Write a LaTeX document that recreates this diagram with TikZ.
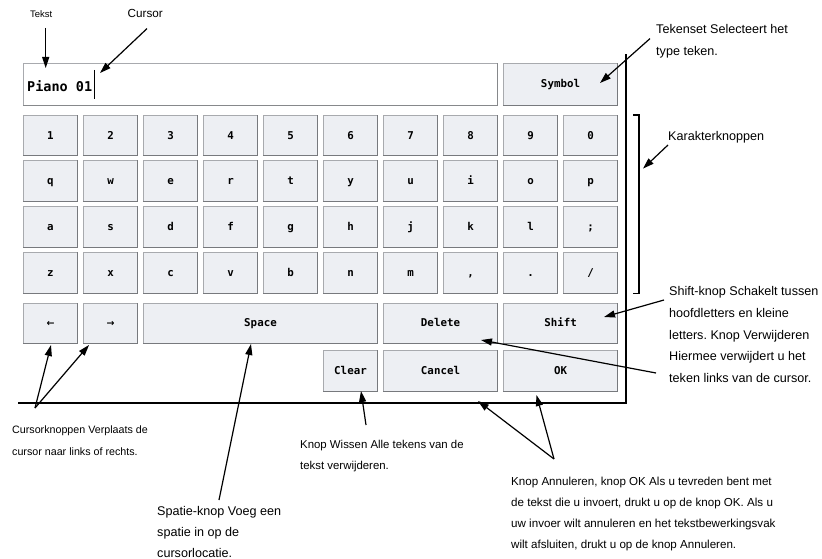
\documentclass[tikz,border=0pt]{standalone}
\usepackage{fontspec}
\setmainfont{Liberation Sans}
\newfontfamily\keyfam{DejaVu Sans Mono}
\newfontfamily\arrowfam{DejaVu Sans}
\usetikzlibrary{arrows.meta}
\frenchspacing
\definecolor{keyfill}{HTML}{EDEFF3}
\definecolor{keyedge}{HTML}{A8AAAE}
\definecolor{keydark}{HTML}{77797D}
\tikzset{
  keybox/.style={draw=keyedge, fill=keyfill, line width=0.8pt, inner sep=0pt,
    text height=7.6pt, text depth=0pt,
    font=\keyfam\bfseries\fontsize{10.8}{12}\selectfont},
  keyshade/.style={draw=keydark, line width=1.1pt},
  callout/.style={line width=1.2pt, -{Triangle[length=11pt,width=7pt]}},
  frameline/.style={line width=1.4pt},
  note/.style={inner sep=0pt, anchor=north west, align=left},
  bignote/.style={note, font=\fontsize{12.6}{21.7}\selectfont},
}
% wide key: name, x1, y1, x2, y2, label
\newcommand\kbwide[6]{%
  \node[keybox, minimum width={(#4-#2)*1pt}, minimum height={(#5-#3)*1pt}]
    (#1) at ({(#2+#4)/2},{(#3+#5)/2}) {#6};
  \draw[keyshade] (#1.south west) -- (#1.south east) -- (#1.north east);
}
% key in a column: name, column, y1, y2, label
\newcommand\kbcol[5]{%
  \pgfmathsetmacro\kxa{23.5+60*#2}%
  \pgfmathsetmacro\kxb{\kxa+54}%
  \kbwide{#1}{\kxa}{#3}{\kxb}{#4}{#5}%
}
\begin{document}
\begin{tikzpicture}[x=1pt,y=-1pt]
\useasboundingbox (0,0) rectangle (822,559);

% frame
\coordinate (fa) at (18,403);
\coordinate (fb) at (626,403);
\coordinate (fc) at (626,54);
\draw[frameline] (fa) -- (fb) -- (fc);

% text box
\node[draw=keyedge, fill=white, line width=0.8pt, inner sep=0pt,
  minimum width=474pt, minimum height=42pt] (tbox) at (260.5,84) {};
\draw[keyshade, draw=keyedge!80!black] (tbox.south west) -- (tbox.south east) -- (tbox.north east);
\node[inner sep=0pt, anchor=west, font=\keyfam\bfseries\fontsize{13.5}{15}\selectfont]
  (ptext) at (27,86) {Piano 01};
\draw[line width=0.9pt] (94,70) -- (94,99);

\kbwide{symbol}{503.5}{63}{617.5}{105}{Symbol}

% character keys
\foreach \c/\t in {0/1,1/2,2/3,3/4,4/5,5/6,6/7,7/8,8/9,9/0}
  {\kbcol{ra\c}{\c}{115}{155.5}{\t}}
\foreach \c/\t in {0/q,1/w,2/e,3/r,4/t,5/y,6/u,7/i,8/o,9/p}
  {\kbcol{rb\c}{\c}{160.5}{201.5}{\t}}
\foreach \c/\t in {0/a,1/s,2/d,3/f,4/g,5/h,6/j,7/k,8/l,9/;}
  {\kbcol{rc\c}{\c}{206}{247}{\t}}
\foreach \c/\t in {0/z,1/x,2/c,3/v,4/b,5/n,6/m,7/{,},8/.}
  {\kbcol{rd\c}{\c}{252}{293.5}{\t}}
\kbcol{rd9}{9}{252}{293.5}{/}

% function keys
\kbcol{kleft}{0}{303}{343}{\arrowfam\fontsize{9.5}{10}\selectfont ←}
\kbcol{kright}{1}{303}{343}{\arrowfam\fontsize{9.5}{10}\selectfont →}
\kbwide{kspace}{143.5}{303}{377.5}{343}{Space}
\kbwide{kdelete}{383.5}{303}{497.5}{343}{Delete}
\kbwide{kshift}{503.5}{303}{617.5}{343}{Shift}
\kbcol{kclear}{5}{350}{391}{Clear}
\kbwide{kcancel}{383.5}{350}{497.5}{391}{Cancel}
\kbwide{kok}{503.5}{350}{617.5}{391}{OK}

% bracket
\coordinate (ba) at (633,115);
\coordinate (bb) at (639,115);
\coordinate (bc) at (639,293.5);
\coordinate (bd) at (633,293.5);
\draw[line width=1.2pt] (ba) -- (bb) -- (bc) -- (bd);

% annotations
\node[inner sep=0pt, anchor=base west, font=\fontsize{9.5}{11}\selectfont] (ltekst) at (30,17.5) {Tekst};
\node[inner sep=0pt, anchor=base west, font=\fontsize{11.7}{13}\selectfont] (lcursor) at (127.5,18) {Cursor};
\node[bignote] (ltekenset) at (656,24) {Tekenset Selecteert het\\type teken.};
\node[bignote] (lkarakter) at (668,131.3) {Karakterknoppen};
\node[bignote] (lshift) at (669,286.3) {Shift-knop Schakelt tussen\\hoofdletters en kleine\\letters. Knop Verwijderen\\Hiermee verwijdert u het\\teken links van de cursor.};
\node[note, font=\fontsize{10.7}{22}\selectfont] (lcursork) at (12,426) {Cursorknoppen Verplaats de\\cursor naar links of rechts.};
\node[note, font=\fontsize{11.4}{21}\selectfont] (lwissen) at (300,439.8) {Knop Wissen Alle tekens van de\\tekst verwijderen.};
\node[bignote, font=\fontsize{12.6}{21}\selectfont] (lspatie) at (157,505.8) {Spatie-knop Voeg een\\spatie in op de\\cursorlocatie.};
\node[note, font=\fontsize{11.6}{21.2}\selectfont] (lannul) at (511,476.7) {Knop Annuleren, knop OK Als u tevreden bent met\\de tekst die u invoert, drukt u op de knop OK. Als u\\uw invoer wilt annuleren en het tekstbewerkingsvak\\wilt afsluiten, drukt u op de knop Annuleren.};

% connector ends
\coordinate (aTekstS) at (45.7,28);
\coordinate (aTekstE) at (45.7,68);
\coordinate (aCurS) at (147,28.6);
\coordinate (aCurE) at (100,73);
\coordinate (aSymS) at (650,38.6);
\coordinate (aSymE) at (600,83);
\coordinate (aKarS) at (668,145);
\coordinate (aKarE) at (643,168.6);
\coordinate (aShiftS) at (664,300);
\coordinate (aShiftE) at (604,317);
\coordinate (aDelS) at (656,373);
\coordinate (aDelE) at (481,340);
\coordinate (aArrS) at (35,408);
\coordinate (aLeftE) at (51,345);
\coordinate (aRightE) at (89,345);
\coordinate (aSpaceS) at (219,500);
\coordinate (aSpaceE) at (251,344);
\coordinate (aClearS) at (366,425);
\coordinate (aClearE) at (361,391);
\coordinate (aAnnS) at (554,459);
\coordinate (aCancelE) at (478,401);
\coordinate (aOkE) at (536.5,395);

\draw[callout] (aTekstS) -- (aTekstE);
\draw[callout] (aCurS) -- (aCurE);
\draw[callout] (aSymS) -- (aSymE);
\draw[callout] (aKarS) -- (aKarE);
\draw[callout] (aShiftS) -- (aShiftE);
\draw[callout] (aDelS) -- (aDelE);
\draw[callout] (aArrS) -- (aLeftE);
\draw[callout] (aArrS) -- (aRightE);
\draw[callout] (aSpaceS) -- (aSpaceE);
\draw[callout] (aClearS) -- (aClearE);
\draw[callout] (aAnnS) -- (aCancelE);
\draw[callout] (aAnnS) -- (aOkE);
\end{tikzpicture}
\end{document}
